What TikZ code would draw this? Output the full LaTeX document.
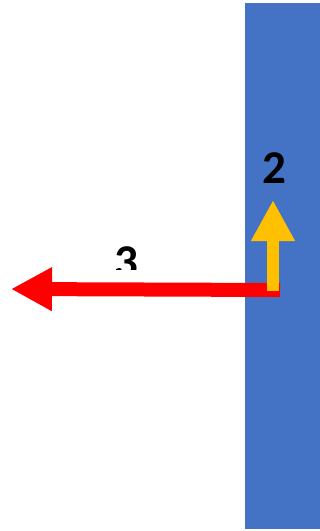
\documentclass[tikz,border=0pt]{standalone}
\usepackage{fontspec}
\setmainfont{Carlito}
\usetikzlibrary{arrows.meta}
\definecolor{panelblue}{HTML}{4472C4}
\definecolor{arrowred}{HTML}{FF0000}
\definecolor{arrowgold}{HTML}{FFC000}
\tikzset{
  label text/.style={inner sep=0pt, font=\bfseries\fontsize{47}{47}\selectfont, text=black},
  fat arrow/.style={line width=14pt, line cap=butt,
    -{Triangle[length=41pt,width=41pt]}}
}
\begin{document}
\begin{tikzpicture}[x=1pt,y=-1pt]
  \useasboundingbox (0,0) rectangle (320,531);
  % vertical wall
  \fill[panelblue] (245,3) rectangle (321,529);
  % arrow endpoints
  \coordinate (redstart) at (280,290);
  \coordinate (redtip) at (11,289);
  \coordinate (goldstart) at (273,291);
  \coordinate (goldtip) at (273,200);
  \draw[fat arrow, draw=arrowred, fill=arrowred] (redstart) -- (redtip);
  \draw[fat arrow, line width=12pt, draw=arrowgold, fill=arrowgold] (goldstart) -- (goldtip);
  % labels
  \node[label text] (two) at (274,168) {2};
  \begin{scope}
    \clip (0,0) rectangle (245,269);
    \node[label text, anchor=north] (three) at (126,246) {3};
  \end{scope}
\end{tikzpicture}
\end{document}
